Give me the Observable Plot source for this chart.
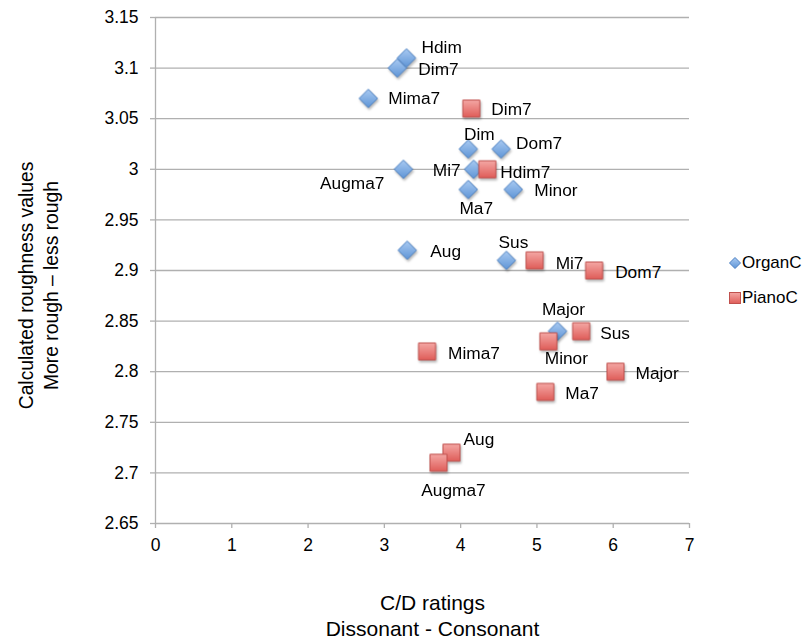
<!DOCTYPE html>
<html>
<head>
<meta charset="utf-8">
<script src="https://cdn.jsdelivr.net/npm/d3@7"></script>
<script src="https://cdn.jsdelivr.net/npm/@observablehq/plot@0.6"></script>
<style>
  html, body { margin: 0; padding: 0; background: #fff; }
  body { font-family: "Liberation Sans", Arial, sans-serif; }
  #wrap { position: relative; width: 808px; height: 639px; }
  #legend { position: absolute; left: 729px; top: 245px; font-size: 17px; color: #000; line-height: 35px; }
  #legend .row { display: flex; align-items: center; white-space: nowrap; }
  #legend svg { margin-right: 1px; }
  g[aria-label="dot"] { filter: drop-shadow(1px 2px 1.2px rgba(0,0,0,0.28)); }
</style>
</head>
<body>
<svg width="0" height="0" style="position:absolute">
  <defs>
    <linearGradient id="gBlue" x1="0" y1="0" x2="0" y2="1">
      <stop offset="0" stop-color="#a9caf2"/>
      <stop offset="1" stop-color="#5f95d6"/>
    </linearGradient>
    <linearGradient id="gRed" x1="0" y1="0" x2="0" y2="1">
      <stop offset="0" stop-color="#f4a7a4"/>
      <stop offset="1" stop-color="#df5d59"/>
    </linearGradient>
  </defs>
</svg>
<div id="wrap">
  <div id="chart"></div>
  <div id="legend">
    <div class="row"><svg width="12" height="12"><path d="M6,0.5L11.5,6L6,11.5L0.5,6Z" fill="url(#gBlue)" stroke="#4a7fc1"/></svg>OrganC</div>
    <div class="row"><svg width="12" height="12"><rect x="0.5" y="0.5" width="11" height="11" fill="url(#gRed)" stroke="#c0504d"/></svg>PianoC</div>
  </div>
</div>
<script>
// ---- data ----
const organNames = ["Hdim", "Dim7", "Mima7", "Dim", "Dom7", "Augma7", "Mi7", "Ma7", "Minor", "Aug", "Sus", "Major"];
const organX     = [3.29, 3.17, 2.79, 4.10, 4.53, 3.25, 4.17, 4.10, 4.69, 3.30, 4.60, 5.27];
const organY     = [3.11, 3.10, 3.07, 3.02, 3.02, 3.00, 3.00, 2.98, 2.98, 2.92, 2.91, 2.84];

const pianoNames = ["Dim7", "Hdim7", "Mi7", "Dom7", "Sus", "Minor", "Mima7", "Major", "Ma7", "Aug", "Augma7"];
const pianoX     = [4.14, 4.35, 4.97, 5.75, 5.58, 5.15, 3.56, 6.03, 5.11, 3.88, 3.71];
const pianoY     = [3.06, 3.00, 2.91, 2.90, 2.84, 2.83, 2.82, 2.80, 2.78, 2.72, 2.71];

const seriesNames = ["OrganC", "PianoC"];
const xTicks = [0, 1, 2, 3, 4, 5, 6, 7];
const yTicks = [2.65, 2.7, 2.75, 2.8, 2.85, 2.9, 2.95, 3.0, 3.05, 3.1, 3.15];
const xTitle = "C/D ratings\nDissonant - Consonant";
const yTitle = "Calculated roughness values\nMore rough \u2013 less rough";

// ---- label placement (layout only) ----
const labelPlace = {
  "OrganC|Hdim":   ["start", 15, -11],
  "OrganC|Dim7":   ["start", 21, 1],
  "OrganC|Mima7":  ["start", 20, 0],
  "OrganC|Dim":    ["middle", 11, -15],
  "OrganC|Dom7":   ["start", 15, -6],
  "OrganC|Augma7": ["end", -19, 14],
  "OrganC|Mi7":    ["end", -13, 1],
  "OrganC|Ma7":    ["middle", 8, 19],
  "OrganC|Minor":  ["start", 21, 1],
  "OrganC|Aug":    ["start", 23, 1],
  "OrganC|Sus":    ["middle", 7, -18],
  "OrganC|Major":  ["middle", 6, -22],
  "PianoC|Dim7":   ["start", 20, 1],
  "PianoC|Hdim7":  ["start", 13, 3],
  "PianoC|Mi7":    ["start", 21, 3],
  "PianoC|Dom7":   ["start", 21, 2],
  "PianoC|Sus":    ["start", 19, 2],
  "PianoC|Minor":  ["middle", 18, 17],
  "PianoC|Mima7":  ["start", 21, 2],
  "PianoC|Major":  ["start", 20, 2],
  "PianoC|Ma7":    ["start", 20, 2],
  "PianoC|Aug":    ["start", 12, -13],
  "PianoC|Augma7": ["middle", 15, 28]
};

const organ = organNames.map((n, i) => ({series: seriesNames[0], name: n, x: organX[i], y: organY[i]}));
const piano = pianoNames.map((n, i) => ({series: seriesNames[1], name: n, x: pianoX[i], y: pianoY[i]}));
const all = organ.concat(piano);

const perLabel = all.map(d => {
  const p = labelPlace[d.series + "|" + d.name];
  return Plot.text([d], {x: "x", y: "y", text: "name", textAnchor: p[0], dx: p[1], dy: p[2], fontSize: 17.3, fill: "#000"});
});

const chart = Plot.plot({
  width: 808,
  height: 639,
  marginLeft: 155,
  marginRight: 119,
  marginTop: 17,
  marginBottom: 116,
  style: {fontFamily: "'Liberation Sans', Arial, sans-serif", fontSize: "17px", color: "#000", background: "#fff"},
  x: {domain: [0, 7], label: null},
  y: {domain: [2.65, 3.15], label: null},
  marks: [
    Plot.gridY(yTicks, {stroke: "#b0b0b0", strokeOpacity: 1, strokeWidth: 1.3}),
    Plot.ruleX([0], {stroke: "#b0b0b0", strokeWidth: 1.3}),
    Plot.axisY({ticks: yTicks, tickSize: 5, tickPadding: 12, stroke: "#b0b0b0", fill: "#000", fontSize: 17.5, strokeWidth: 1.3,
      tickFormat: d => String(+d.toFixed(2))}),
    Plot.axisX({ticks: xTicks, tickSize: 5, tickPadding: 10, stroke: "#b0b0b0", fill: "#000", fontSize: 17.5, strokeWidth: 1.3,
      tickFormat: d => String(d)}),
    Plot.dot(organ, {x: "x", y: "y", symbol: "diamond2", r: 8.3, fill: "url(#gBlue)", stroke: "#4a7fc1", strokeWidth: 1}),
    Plot.dot(piano, {x: "x", y: "y", symbol: "square", r: 9.6, fill: "url(#gRed)", stroke: "#c0504d", strokeWidth: 1}),
    ...perLabel,
    Plot.text([xTitle], {frameAnchor: "bottom", text: d => d, textAnchor: "middle", dx: 10, dy: 91, fontSize: 21, lineHeight: 1.24, lineAnchor: "middle", fill: "#000"}),
    Plot.text([yTitle], {frameAnchor: "left", text: d => d, textAnchor: "middle", rotate: -90, dx: -118, dy: 15, fontSize: 19.3, lineHeight: 1.32, lineAnchor: "middle", fill: "#000"})
  ]
});

document.getElementById("chart").appendChild(chart);
</script>
</body>
</html>
